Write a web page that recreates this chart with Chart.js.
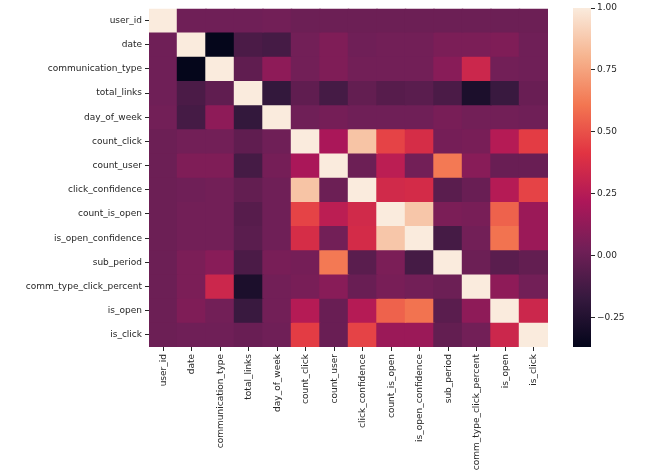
<!DOCTYPE html>
<html>
<head>
<meta charset="utf-8">
<script src="https://cdn.jsdelivr.net/npm/chart.js@4/dist/chart.umd.min.js"></script>
<style>
  body { margin: 0; background: #fff; }
  #wrap { position: relative; width: 646px; height: 476px; }
  #heat { position: absolute; left: 0; top: 0; }
  #cbar { position: absolute; left: 573px; top: 0; }
</style>
</head>
<body>
<div id="wrap">
  <canvas id="heat" width="646" height="476"></canvas>
  <canvas id="cbar" width="60" height="476"></canvas>
</div>
<script>
const labels = [
  "user_id", "date", "communication_type", "total_links", "day_of_week",
  "count_click", "count_user", "click_confidence", "count_is_open",
  "is_open_confidence", "sub_period", "comm_type_click_percent", "is_open", "is_click",
];

// correlation matrix
const corr = [
  [1, 0.02, 0.02, 0.02, 0.03, 0.01, 0.01, 0.01, 0.01, 0.01, 0.01, 0.01, 0.01, 0.01],
  [0.02, 1, -0.36, -0.1, -0.12, 0.03, 0.07, 0.02, 0.03, 0.03, 0.06, 0.06, 0.07, 0.02],
  [0.02, -0.36, 1, -0.03, 0.12, 0.03, 0.07, 0.03, 0.03, 0.03, 0.1, 0.33, 0.03, 0.02],
  [0.02, -0.1, -0.03, 1, -0.18, -0.03, -0.12, -0.02, -0.06, -0.05, -0.1, -0.27, -0.16, 0.0],
  [0.03, -0.12, 0.12, -0.18, 1, 0.02, 0.04, 0.02, 0.02, 0.02, 0.05, 0.03, 0.03, 0.02],
  [0.01, 0.03, 0.03, -0.03, 0.02, 1, 0.21, 0.86, 0.46, 0.37, 0.04, 0.05, 0.25, 0.44],
  [0.01, 0.07, 0.07, -0.12, 0.04, 0.21, 1, 0.01, 0.27, 0.03, 0.62, 0.1, 0.0, 0.0],
  [0.01, 0.02, 0.03, -0.02, 0.02, 0.86, 0.01, 1, 0.35, 0.36, -0.05, 0.0, 0.25, 0.46],
  [0.01, 0.03, 0.03, -0.06, 0.02, 0.46, 0.27, 0.35, 1, 0.87, 0.06, 0.05, 0.55, 0.16],
  [0.01, 0.03, 0.03, -0.05, 0.02, 0.37, 0.03, 0.36, 0.87, 1, -0.12, 0.03, 0.6, 0.16],
  [0.01, 0.06, 0.1, -0.1, 0.05, 0.04, 0.62, -0.05, 0.06, -0.12, 1, 0.01, -0.05, -0.02],
  [0.01, 0.06, 0.33, -0.27, 0.03, 0.05, 0.1, 0.0, 0.05, 0.03, 0.01, 1, 0.12, 0.03],
  [0.01, 0.07, 0.03, -0.16, 0.03, 0.25, 0.0, 0.25, 0.55, 0.6, -0.05, 0.12, 1, 0.33],
  [0.01, 0.02, 0.02, 0.0, 0.02, 0.44, 0.0, 0.46, 0.16, 0.16, -0.02, 0.03, 0.33, 1],
];

const vmin = -0.367;
const vmax = 1.0;
const cbarTicks = [-0.25, 0, 0.25, 0.5, 0.75, 1.0];

// seaborn "rocket" colormap, sampled
const rocketStops = [
  [0.0, [3, 5, 26]],
  [1 / 7, [53, 25, 62]],
  [2 / 7, [112, 31, 87]],
  [3 / 7, [173, 23, 89]],
  [4 / 7, [225, 51, 66]],
  [5 / 7, [243, 118, 81]],
  [6 / 7, [246, 180, 143]],
  [1.0, [250, 235, 221]],
];

function rocketAt(t) {
  t = Math.max(0, Math.min(1, t));
  for (let i = 1; i < rocketStops.length; i++) {
    const [t1, c1] = rocketStops[i];
    const [t0, c0] = rocketStops[i - 1];
    if (t <= t1) {
      const f = (t - t0) / (t1 - t0);
      const c = c0.map((a, k) => Math.round(a + (c1[k] - a) * f));
      return `rgb(${c[0]},${c[1]},${c[2]})`;
    }
  }
  return "rgb(250,235,221)";
}
const colorFor = (v) => rocketAt((v - vmin) / (vmax - vmin));

const font = { family: "'DejaVu Sans'", size: 9 };
const textColor = "#262626";
const seam = 0.03; // small overlap so anti-aliased cell edges don't show white lines

Chart.defaults.animation = false;

new Chart(document.getElementById("heat"), {
  type: "bar",
  data: {
    labels: labels,
    datasets: corr.map((row, r) => ({
      data: row.map(() => [r - (r > 0 ? seam : 0), r + 1]),
      backgroundColor: row.map((v) => colorFor(v)),
      borderWidth: 0,
      barPercentage: 1.05,
      categoryPercentage: 1,
      grouped: false,
    })),
  },
  options: {
    responsive: false,
    devicePixelRatio: 1,
    layout: { padding: { top: 7, right: 98, left: 0, bottom: 0 } },
    plugins: { legend: { display: false }, tooltip: { enabled: false } },
    scales: {
      x: {
        type: "category",
        grid: { offset: false, drawOnChartArea: false, tickLength: 4, color: textColor },
        border: { display: false },
        ticks: { font: font, color: textColor, minRotation: 90, maxRotation: 90, padding: 3, autoSkip: false },
        afterFit: (s) => { s.height = 129; },
      },
      y: {
        type: "linear",
        min: 0,
        max: labels.length,
        reverse: true,
        grid: { drawOnChartArea: false, tickLength: 4, color: textColor },
        border: { display: false },
        afterBuildTicks: (s) => {
          s.ticks = labels.map((_, i) => ({ value: i + 0.5 }));
        },
        ticks: {
          font: font,
          color: textColor,
          padding: 3,
          autoSkip: false,
          callback: (v) => labels[Math.floor(v)],
        },
        afterFit: (s) => { s.width = 149; },
      },
    },
  },
});

// colorbar
new Chart(document.getElementById("cbar"), {
  type: "bar",
  data: {
    labels: [""],
    datasets: [{
      data: [[vmin, vmax]],
      borderWidth: 0,
      barPercentage: 1,
      categoryPercentage: 1,
      backgroundColor: (ctx) => {
        const chart = ctx.chart;
        if (!chart.chartArea) return "#701f57";
        const y = chart.scales.y;
        const g = chart.ctx.createLinearGradient(0, y.getPixelForValue(vmin), 0, y.getPixelForValue(vmax));
        rocketStops.forEach(([t, c]) => g.addColorStop(t, `rgb(${c[0]},${c[1]},${c[2]})`));
        return g;
      },
    }],
  },
  options: {
    responsive: false,
    devicePixelRatio: 1,
    layout: { padding: { top: 8, right: 0, left: 0, bottom: 129 } },
    plugins: { legend: { display: false }, tooltip: { enabled: false } },
    scales: {
      x: { display: false },
      y: {
        position: "right",
        min: vmin,
        max: vmax,
        grid: { drawOnChartArea: false, tickLength: 4, color: textColor },
        border: { display: false },
        afterBuildTicks: (s) => {
          s.ticks = cbarTicks.map((v) => ({ value: v }));
        },
        ticks: {
          font: font,
          color: textColor,
          padding: 2,
          callback: (v) => (v < 0 ? "\u2212" + Math.abs(v).toFixed(2) : v.toFixed(2)),
        },
        afterFit: (s) => { s.width = 42; },
      },
    },
  },
});
</script>
</body>
</html>
